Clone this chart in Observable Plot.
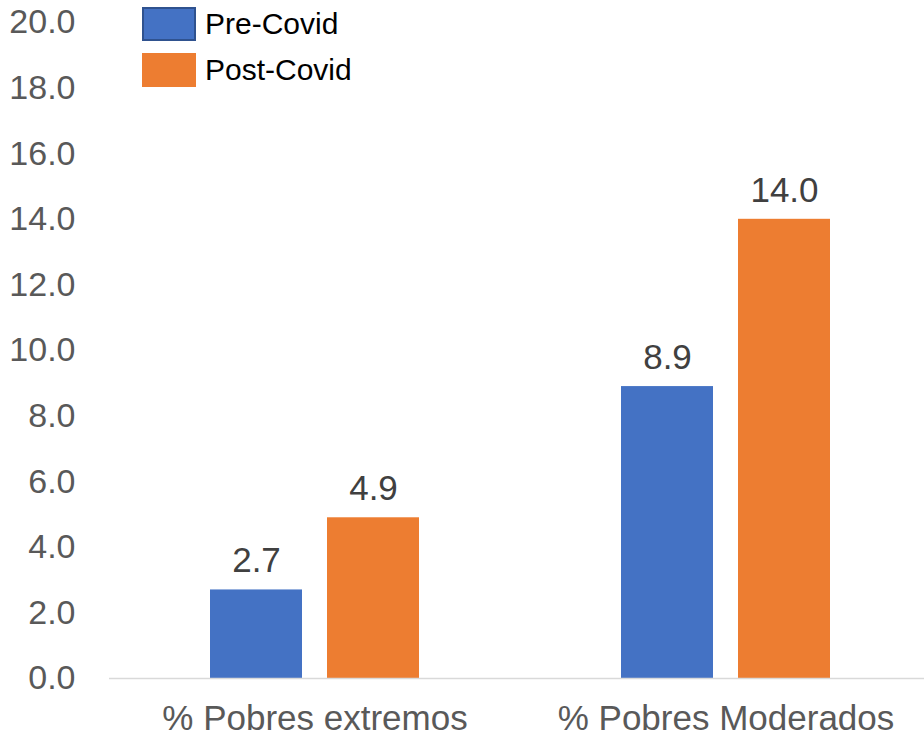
<!DOCTYPE html>
<html>
<head>
<meta charset="utf-8">
<script src="https://cdn.jsdelivr.net/npm/d3@7"></script>
<script src="https://cdn.jsdelivr.net/npm/@observablehq/plot@0.6"></script>
<style>
  html, body { margin: 0; padding: 0; background: #fff; overflow: hidden; }
  #wrap { position: relative; width: 924px; height: 735px; overflow: hidden; font-family: "Liberation Sans", Arial, sans-serif; }
  #chart svg { max-width: none !important; overflow: visible; }
  #legend { position: absolute; left: 142px; top: 7px; }
  .li { display: flex; align-items: center; height: 34px; margin-bottom: 12px; }
  .sw { width: 54px; height: 34px; box-sizing: border-box; margin-right: 9px; }
  .lt { font-size: 30px; color: #000; line-height: 1; }
</style>
</head>
<body>
<div id="wrap">
  <div id="chart"></div>
  <div id="legend"></div>
</div>
<script>
const categories = ["% Pobres extremos", "% Pobres Moderados"];
const seriesNames = ["Pre-Covid", "Post-Covid"];
const preCovid = [2.7, 8.9];
const postCovid = [4.9, 14.0];
const yTicks = [0, 2, 4, 6, 8, 10, 12, 14, 16, 18, 20];
const colors = ["#4472C4", "#ED7D31"];
const borders = ["#2F528F", "#ED7D31"];

const data = [];
categories.forEach((c, i) => {
  data.push({category: c, series: seriesNames[0], value: preCovid[i]});
  data.push({category: c, series: seriesNames[1], value: postCovid[i]});
});

const chart = Plot.plot({
  width: 931,
  height: 735,
  marginLeft: 109,
  marginRight: 0,
  marginTop: 22,
  marginBottom: 57,
  style: {fontFamily: "'Liberation Sans', Arial, sans-serif", background: "#fff", maxWidth: "none", overflow: "visible"},
  fx: {domain: categories, padding: 0, label: null, axis: null},
  x: {domain: seriesNames, paddingInner: 0.213, paddingOuter: 0.856, axis: null},
  y: {domain: [0, 20], ticks: yTicks, label: null, axis: null},
  color: {domain: seriesNames, range: colors},
  marks: [
    Plot.axisY({ticks: yTicks, tickFormat: d => d.toFixed(1), tickSize: 0, tickPadding: 34, fontSize: 34, fill: "#595959", label: null}),
    Plot.axisFx({anchor: "bottom", tickSize: 0, tickPadding: 27, fontSize: 35, fill: "#595959", label: null}),
    Plot.barY(data, {fx: "category", x: "series", y: "value", fill: "series"}),
    Plot.ruleY([0], {stroke: "#d9d9d9", strokeWidth: 1.5}),
    Plot.text(data, {fx: "category", x: "series", y: "value", text: d => d.value.toFixed(1), lineAnchor: "middle", dy: -29, fontSize: 35, fill: "#404040"})
  ]
});
document.getElementById("chart").appendChild(chart);

const legend = document.getElementById("legend");
seriesNames.forEach((s, i) => {
  const row = document.createElement("div");
  row.className = "li";
  const sw = document.createElement("div");
  sw.className = "sw";
  sw.style.background = colors[i];
  if (i === 0) sw.style.border = "2px solid " + borders[i];
  const t = document.createElement("span");
  t.className = "lt";
  t.textContent = s;
  row.appendChild(sw);
  row.appendChild(t);
  legend.appendChild(row);
});
</script>
</body>
</html>
